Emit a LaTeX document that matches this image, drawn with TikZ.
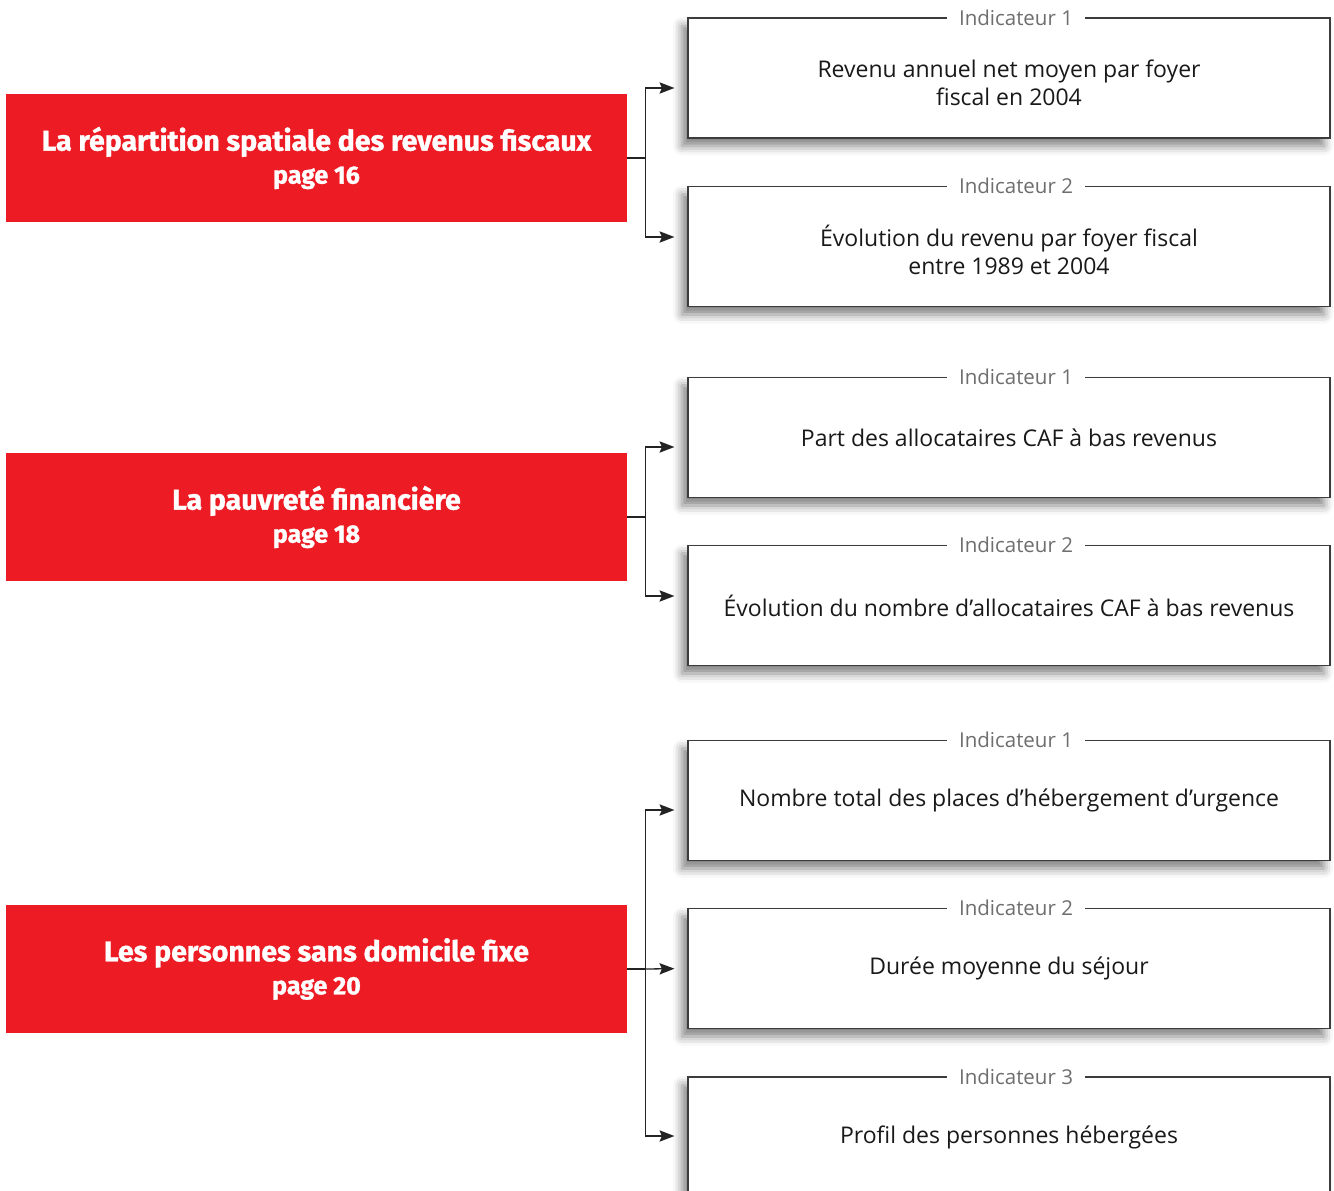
\documentclass[tikz,border=0pt]{standalone}
\usepackage{fontspec}
\setmainfont{Open Sans}
\newfontfamily\titlefont{Fira Sans}[BoldFeatures={FakeBold=1.2}]
\usepackage{xcolor}
\definecolor{TitleRed}{RGB}{237,28,36}
\definecolor{BoxBorder}{RGB}{60,60,60}
\definecolor{EdgeColor}{RGB}{35,35,35}
\definecolor{LabelGray}{RGB}{110,110,110}
\definecolor{TextDark}{RGB}{25,25,25}
\usepackage{tikz}
\usetikzlibrary{
  positioning,
  arrows.meta,
  calc,
  shadows.blur
}
\newcommand{\lowstrut}{\rule{0pt}{28pt}}
\tikzset{
  % Red theme box
  theme/.style={
    rectangle,
    fill=TitleRed,
    minimum width=621pt,
    minimum height=128pt,
    inner sep=0pt,
    align=center,
    text=white,
    font=\titlefont\bfseries\fontsize{28.5}{36}\selectfont
  },
  % Indicator box
  indbox/.style={
    rectangle,
    draw=BoxBorder,
    line width=1.2pt,
    fill=white,
    minimum width=642pt,
    minimum height=120pt,
    inner sep=0pt,
    align=center,
    text=TextDark,
    font=\fontsize{23}{28}\selectfont,
    blur shadow={shadow xshift=-6pt, shadow yshift=-8pt,
      shadow blur radius=9pt, shadow opacity=50}
  },
  % Indicator label on the top border
  ilabel/.style={
    fill=white,
    inner xsep=12pt,
    inner ysep=2pt,
    text=LabelGray,
    font=\fontsize{20.5}{24}\selectfont
  },
  % Plain edge
  edge/.style={
    draw=EdgeColor,
    line width=1.3pt
  },
  % Directed edge
  dedge/.style={
    draw=EdgeColor,
    line width=1.3pt,
    -{Stealth[length=15pt,width=11.5pt,inset=2.5pt,line width=0pt]},
    shorten >=13pt
  }
}
\begin{document}
\begin{tikzpicture}[x=1pt,y=-1pt]
  \useasboundingbox (0,0) rectangle (1334,1191);
  \node[theme] (r1) at (316.5,158) {La répartition spatiale des revenus fiscaux\\[-3pt]{\fontsize{25}{30}\selectfont page 16}};
  \node[theme] (r2) at (316.5,517) {La pauvreté financière\\[-3pt]{\fontsize{25}{30}\selectfont page 18}};
  \node[theme] (r3) at (316.5,969) {Les personnes sans domicile fixe\\[-3pt]{\fontsize{25}{30}\selectfont page 20}};
  \node[indbox] (i11) at (1009,78) {\lowstrut Revenu annuel net moyen par foyer\\fiscal en 2004};
  \node[indbox] (i12) at (1009,246.5) {\lowstrut Évolution du revenu par foyer fiscal\\entre 1989 et 2004};
  \node[indbox] (i21) at (1009,437.5) {Part des allocataires CAF à bas revenus};
  \node[indbox] (i22) at (1009,605.5) {Évolution du nombre d’allocataires CAF à bas revenus};
  \node[indbox] (i31) at (1009,800.5) {Nombre total des places d’hébergement d’urgence};
  \node[indbox] (i32) at (1009,968.5) {Durée moyenne du séjour};
  \node[indbox] (i33) at (1009,1137) {Profil des personnes hébergées};
  \foreach \b/\n in {i11/1,i12/2,i21/1,i22/2,i31/1,i32/2,i33/3}
    \node[ilabel] (l\b) at ([xshift=7pt]\b.north) {Indicateur \n};
  \foreach \r in {1,2,3}
    \draw[edge] (r\r.east) -- ++(18,0) coordinate (j\r);
  \draw[dedge] (j1) |- ([yshift=-10pt]i11.west);
  \draw[dedge] (j1) |- ([yshift=9.5pt]i12.west);
  \draw[dedge] (j2) |- ([yshift=-9.5pt]i21.west);
  \draw[dedge] (j2) |- ([yshift=9.5pt]i22.west);
  \draw[dedge] (j3) |- ([yshift=-9.5pt]i31.west);
  \draw[dedge] (j3) -- (i32.west);
  \draw[dedge] (j3) |- ([yshift=1pt]i33.west);
\end{tikzpicture}
\end{document}
